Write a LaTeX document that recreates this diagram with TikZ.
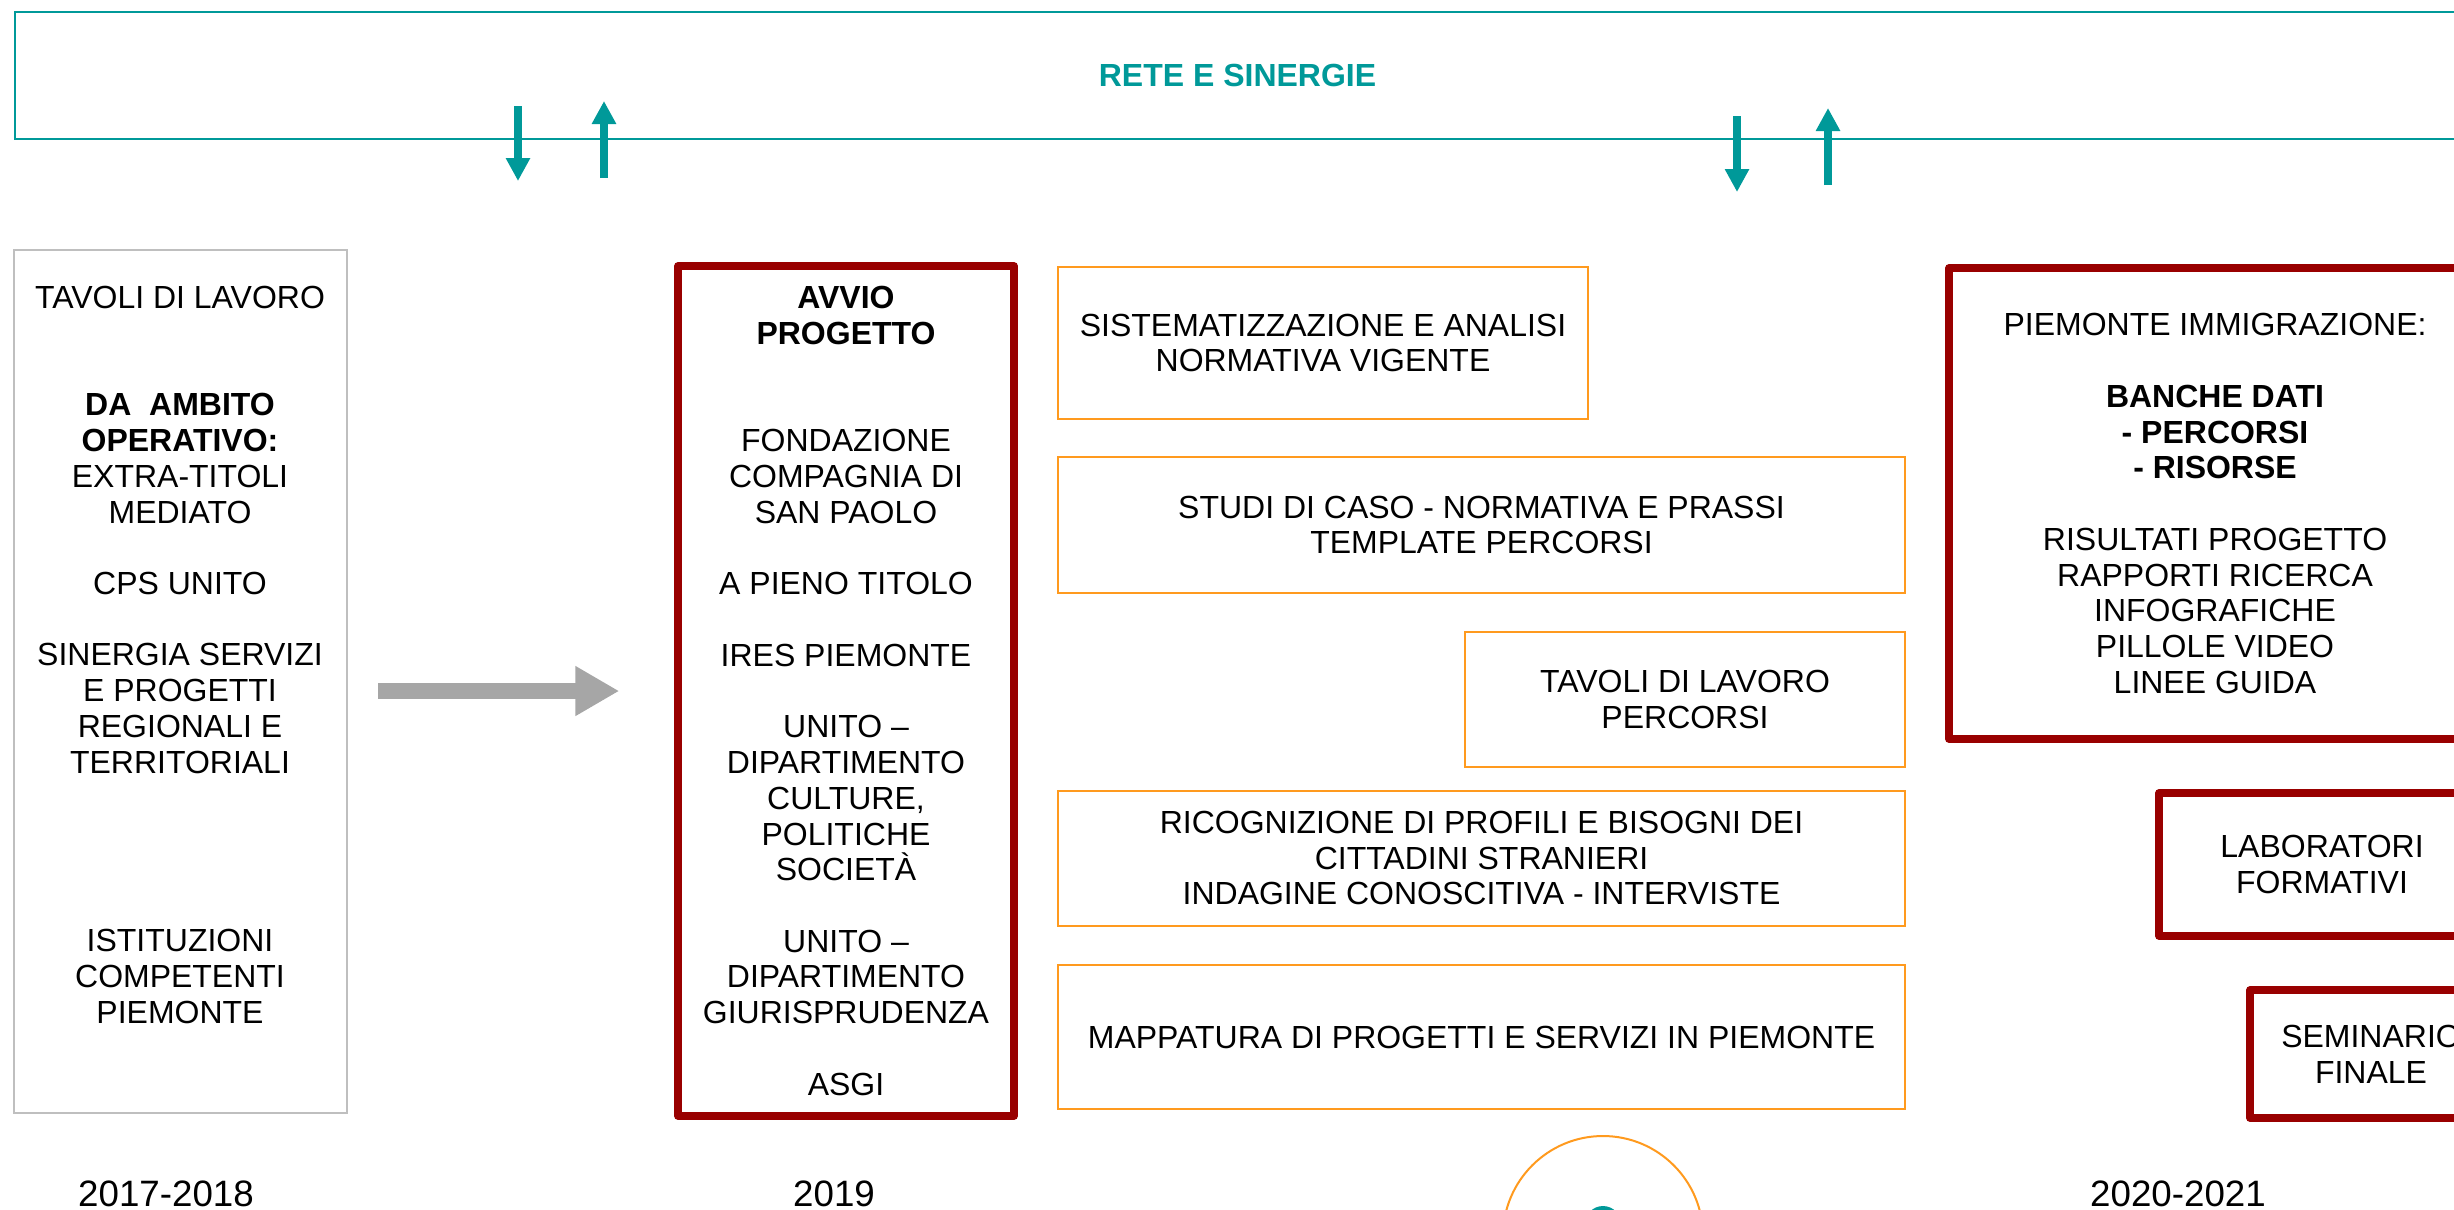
\documentclass[tikz,border=0pt]{standalone}
\usepackage{fontspec}
\setmainfont{Liberation Sans}
\usepackage{xcolor}
\usepackage{tikz}
\usetikzlibrary{arrows.meta,positioning}
\definecolor{reteteal}{RGB}{0,153,153}
\definecolor{avviored}{RGB}{153,0,0}
\definecolor{fasiorange}{RGB}{255,154,30}
\definecolor{boxgray}{RGB}{191,191,191}
\definecolor{arrowgray}{RGB}{166,166,166}
\tikzset{
  txt/.style={align=center, inner sep=0pt, font=\fontsize{9.1}{10.17}\selectfont},
  framebox/.style={draw, inner sep=0pt, align=center, font=\fontsize{9.1}{10.17}\selectfont},
  orangebox/.style={framebox, draw=fasiorange, line width=0.02cm},
  redbox/.style={framebox, draw=avviored, line width=0.075cm, line join=round},
  graybox/.style={framebox, draw=boxgray, line width=0.02cm},
  tealarrow/.style={draw=reteteal, line width=0.08cm, -{Triangle[length=2.3mm,width=2.3mm]}},
  year/.style={anchor=base, inner sep=0pt, font=\fontsize{10.45}{12}\selectfont},
}

\begin{document}
\begin{tikzpicture}[y=-1cm]
    \useasboundingbox (0,0) rectangle (24.54,12.09);

    \node[framebox, draw=reteteal, line width=0.02cm, minimum width=24.45cm, minimum height=1.27cm,
          text=reteteal, font=\fontsize{9.1}{10.17}\selectfont\bfseries] (rete) at (12.375,0.755) {RETE E SINERGIE};

    \coordinate (giu1a) at (5.18,1.06);   \coordinate (giu1b) at (5.18,1.81);
    \coordinate (su1a) at (6.04,1.78);    \coordinate (su1b) at (6.04,1.01);
    \coordinate (giu2a) at (17.37,1.16);  \coordinate (giu2b) at (17.37,1.92);
    \coordinate (su2a) at (18.28,1.85);   \coordinate (su2b) at (18.28,1.08);
    \draw[tealarrow] (giu1a) -- (giu1b);
    \draw[tealarrow] (su1a) -- (su1b);
    \draw[tealarrow] (giu2a) -- (giu2b);
    \draw[tealarrow] (su2a) -- (su2b);

    \node[graybox, minimum width=3.33cm, minimum height=8.63cm] (ambito) at (1.805,6.815) {};
    \node[txt, anchor=north] (ambitotxt) at (1.80,2.855) {TAVOLI DI LAVORO\\ \\ \\ \textbf{DA\ \ AMBITO}\\ \textbf{OPERATIVO:}\\ EXTRA-TITOLI\\ MEDIATO\\ \\ CPS UNITO\\ \\ SINERGIA SERVIZI\\ E PROGETTI\\ REGIONALI E\\ TERRITORIALI\\ \\ \\ \\ \\ ISTITUZIONI\\ COMPETENTI\\ PIEMONTE};

    \node[redbox, minimum width=3.36cm, minimum height=8.50cm] (avvio) at (8.46,6.91) {\textbf{AVVIO}\\ \textbf{PROGETTO}\\ \\ \\ FONDAZIONE\\ COMPAGNIA DI\\ SAN PAOLO\\ \\ A PIENO TITOLO\\ \\ IRES PIEMONTE\\ \\ UNITO –\\ DIPARTIMENTO\\ CULTURE,\\ POLITICHE\\ SOCIETÀ\\ \\ UNITO –\\ DIPARTIMENTO\\ GIURISPRUDENZA\\ \\ ASGI};

    \draw[arrowgray, line width=0.155cm, shorten <=0.3cm, shorten >=0.55cm, -{Triangle[length=4.4mm,width=4.7mm]}] (ambito.east |- avvio.west) -- (avvio.west);

    \node[orangebox, minimum width=5.30cm, minimum height=1.52cm] (sistem) at (13.23,3.43) {SISTEMATIZZAZIONE E ANALISI\\NORMATIVA VIGENTE};
    \node[orangebox, minimum width=8.47cm, minimum height=1.365cm] (studi) at (14.815,5.25) {STUDI DI CASO - NORMATIVA E PRASSI\\TEMPLATE PERCORSI};
    \node[orangebox, minimum width=4.40cm, minimum height=1.35cm] (tavoli) at (16.85,6.995) {TAVOLI DI LAVORO\\PERCORSI};
    \node[orangebox, minimum width=8.47cm, minimum height=1.35cm] (ricogn) at (14.815,8.58) {RICOGNIZIONE DI PROFILI E BISOGNI DEI\\CITTADINI STRANIERI\\INDAGINE CONOSCITIVA - INTERVISTE};
    \node[orangebox, minimum width=8.47cm, minimum height=1.44cm] (mappa) at (14.815,10.37) {MAPPATURA DI PROGETTI E SERVIZI IN PIEMONTE};

    \node[redbox, minimum width=5.32cm, minimum height=4.71cm] (piemonte) at (22.15,5.035) {PIEMONTE IMMIGRAZIONE:\\ \\ \textbf{BANCHE DATI}\\ \textbf{- PERCORSI}\\ \textbf{- RISORSE}\\ \\ RISULTATI PROGETTO\\ RAPPORTI RICERCA\\ INFOGRAFICHE\\ PILLOLE VIDEO\\ LINEE GUIDA};
    \node[redbox, minimum width=3.26cm, minimum height=1.43cm] (lab) at (23.22,8.645) {LABORATORI\\FORMATIVI};
    \node[redbox, minimum width=2.42cm, minimum height=1.28cm] (seminario) at (23.71,10.54) {SEMINARIO\\FINALE};

    \node[year] (anno1) at (1.66,12.06) {2017-2018};
    \node[year] (anno2) at (8.34,12.06) {2019};
    \node[year] (anno3) at (21.78,12.06) {2020-2021};

    \draw[fasiorange, line width=0.02cm] (16.03,12.36) circle (1.0);
    \fill[reteteal] (16.03,12.24) circle (0.18);
\end{tikzpicture}
\end{document}
